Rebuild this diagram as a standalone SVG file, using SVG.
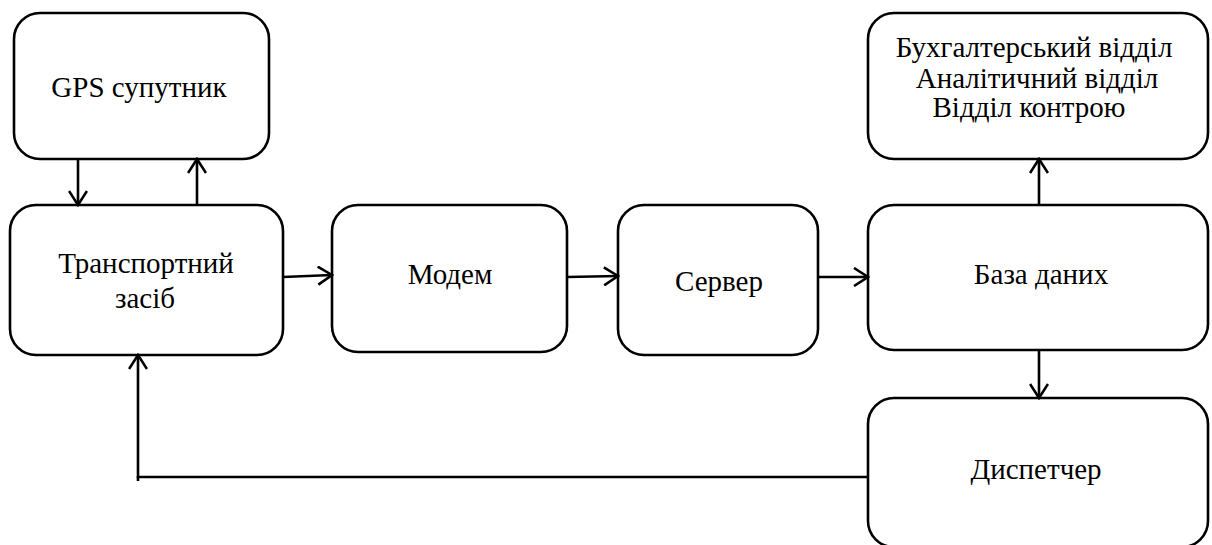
<svg xmlns="http://www.w3.org/2000/svg" width="1212" height="545" viewBox="0 0 1212 545">
  <style>
    .box { fill: #ffffff; stroke: #000000; stroke-width: 2.6; }
    .wire { fill: none; stroke: #000000; stroke-width: 2.6; }
  </style>
  <defs>
    <marker id="arrow" viewBox="0 0 20 20" refX="18" refY="10" markerWidth="20" markerHeight="20" markerUnits="userSpaceOnUse" orient="auto">
      <path d="M4,1 L18,10 L4,19" fill="none" stroke="#000000" stroke-width="2.6"/>
    </marker>
  </defs>

  <rect width="1212" height="545" fill="#ffffff"/>

  <g font-family="Liberation Serif, DejaVu Serif, serif" font-size="29" fill="#000000" text-anchor="middle">
    <g id="gps">
      <rect class="box" x="14" y="13" width="255" height="146" rx="26"/>
      <text x="139" y="97">GPS супутник</text>
    </g>

    <g id="vehicle">
      <rect class="box" x="10" y="205" width="273" height="150" rx="26"/>
      <text x="146" y="273">Транспортний</text>
      <text x="145" y="308">засіб</text>
    </g>

    <g id="modem">
      <rect class="box" x="332" y="205" width="235" height="147" rx="26"/>
      <text x="450" y="284">Модем</text>
    </g>

    <g id="server">
      <rect class="box" x="618" y="205" width="200" height="150" rx="26"/>
      <text x="719" y="291">Сервер</text>
    </g>

    <g id="database">
      <rect class="box" x="868" y="205" width="340" height="145" rx="26"/>
      <text x="1041" y="284">База даних</text>
    </g>

    <g id="departments">
      <rect class="box" x="868" y="13" width="340" height="146" rx="26"/>
      <text x="1034" y="57">Бухгалтерський відділ</text>
      <text x="1037" y="88">Аналітичний відділ</text>
      <text x="1029" y="117">Відділ контрою</text>
    </g>

    <g id="dispatcher">
      <rect class="box" x="868" y="398" width="340" height="149" rx="26"/>
      <text x="1036" y="479">Диспетчер</text>
    </g>
  </g>

  <g id="connectors">
    <line class="wire" x1="78" y1="159" x2="78" y2="205" marker-end="url(#arrow)"/>
    <line class="wire" x1="197" y1="205" x2="197" y2="159" marker-end="url(#arrow)"/>
    <line class="wire" x1="283" y1="277" x2="332" y2="275" marker-end="url(#arrow)"/>
    <line class="wire" x1="567" y1="277" x2="618" y2="276" marker-end="url(#arrow)"/>
    <line class="wire" x1="818" y1="277" x2="868" y2="277" marker-end="url(#arrow)"/>
    <line class="wire" x1="1039" y1="205" x2="1039" y2="159" marker-end="url(#arrow)"/>
    <line class="wire" x1="1039" y1="350" x2="1039" y2="398" marker-end="url(#arrow)"/>
    <polyline class="wire" points="868,477 138,477 138,355" marker-end="url(#arrow)"/>
    <line class="wire" x1="138" y1="476" x2="138" y2="481"/>
  </g>
</svg>
